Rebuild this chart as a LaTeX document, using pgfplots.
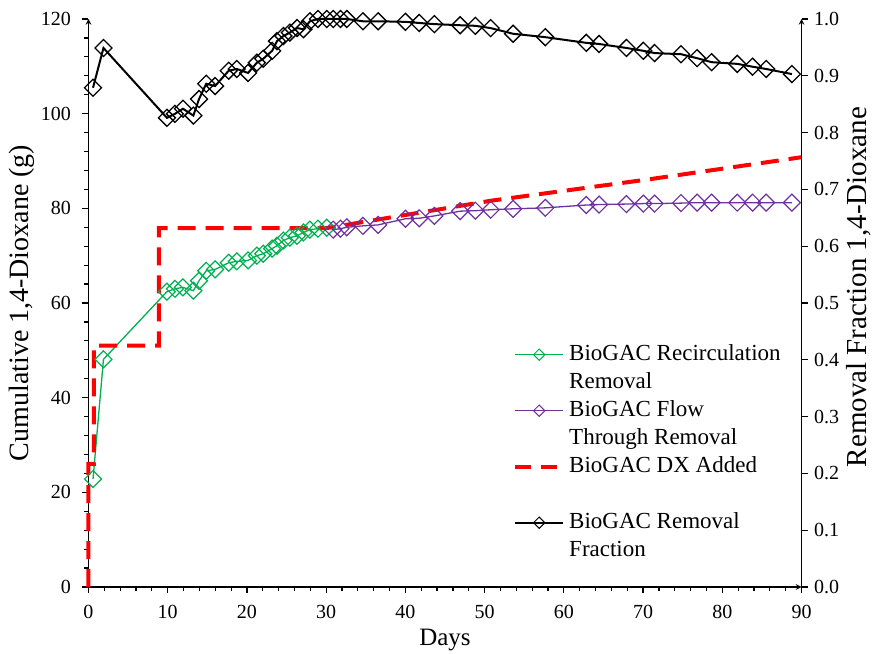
\documentclass[border=0pt]{standalone}
\usepackage{pgfplots}
\pgfplotsset{compat=1.18}
\usepackage{pgfplotstable}
\usepackage{fontspec}
\setmainfont{Liberation Serif}
\definecolor{xgreen}{RGB}{0,176,80}
\definecolor{xpurple}{RGB}{112,48,160}
\definecolor{xred}{RGB}{255,0,0}

\pgfplotstableread{
d g
0.57 22.8
1.89 48.1
9.90 62.4
10.91 63.0
11.92 63.3
13.24 62.6
13.95 64.7
14.86 66.8
15.98 67.1
17.70 68.5
18.72 68.8
20.14 69.0
21.25 70.0
22.06 70.4
23.18 71.5
23.79 72.1
24.60 73.2
25.41 73.8
26.32 74.2
27.13 74.9
27.95 75.5
28.96 75.7
30.07 75.9
}\greendata

\pgfplotstableread{
d g
30.89 75.5
31.80 75.7
32.61 76.0
34.64 76.3
36.56 76.5
40.01 77.8
41.74 77.9
43.66 78.4
46.91 79.4
48.83 79.5
50.76 79.7
53.60 79.9
57.66 80.1
62.83 80.7
64.45 80.8
67.90 80.9
70.03 81.0
71.45 81.0
74.79 81.1
76.82 81.2
78.65 81.2
81.89 81.2
83.82 81.2
85.54 81.2
88.79 81.2
}\purpledata

\pgfplotstableread{
d g
0 0
0 26
0.67 26
0.67 51
8.88 51
8.88 75.8
29.97 75.8
50.76 81.6
71.04 86.2
90 90.8
}\reddata

\pgfplotstableread{
d f
0.57 0.879
1.89 0.949
9.90 0.826
10.91 0.833
11.92 0.842
13.24 0.830
13.95 0.859
14.86 0.886
15.98 0.882
17.70 0.909
18.72 0.912
20.14 0.905
21.25 0.923
22.06 0.930
23.18 0.944
23.79 0.961
24.60 0.970
25.41 0.976
26.32 0.984
27.13 0.982
27.95 0.996
28.96 1.000
30.07 1.000
30.89 1.000
31.80 1.000
32.61 1.000
34.64 0.996
36.56 0.996
40.01 0.995
41.74 0.993
43.66 0.991
46.91 0.989
48.83 0.988
50.76 0.984
53.60 0.974
57.66 0.968
62.83 0.958
64.45 0.956
67.90 0.949
70.03 0.944
71.45 0.940
74.79 0.938
76.82 0.931
78.65 0.924
81.89 0.921
83.82 0.916
85.54 0.912
88.79 0.903
}\blackdata

\pgfplotsset{
  common/.style={
    scale only axis, width=713pt, height=568pt,
    at={(0pt,0pt)}, anchor=south west,
    xmin=0, xmax=90, clip=false,
    axis line style={line width=1.5pt,-},
    major tick length=6pt, minor tick length=4pt,
    every tick/.style={black, line width=1.2pt},
    /pgf/number format/assume math mode=true,
    ticklabel style={font=\fontsize{20}{23}\selectfont},
    label style={font=\fontsize{26}{30}\selectfont},
  },
  legimg/.style={legend image code/.code={
      \draw[mark repeat=2, mark phase=2, mark size=4pt] plot coordinates {(0pt,0pt) (24pt,0pt) (48pt,0pt)};}},
}

\begin{document}
\begin{tikzpicture}[x=1pt,y=1pt]
\useasboundingbox (-88.5,-66) rectangle (785.5,587);
\begin{axis}[common,
  ymin=0, ymax=120,
  axis x line=bottom, axis y line=left,
  xtick align=outside, ytick align=outside,
  xtick={0,10,...,90}, minor x tick num=4,
  ytick={0,20,...,120}, minor y tick num=4,
  xticklabel style={yshift=-9pt},
  yticklabel style={xshift=-8pt},
  xlabel={Days},
  ylabel={Cumulative 1,4-Dioxane (g)},
  xlabel style={at={(axis description cs:0.5,-0.094)}, anchor=center, font=\fontsize{25}{30}\selectfont},
  ylabel style={at={(axis description cs:-0.0933,0.5)}, anchor=center, font=\fontsize{28}{30}\selectfont},
]
\addplot[xgreen, line width=1.3pt, mark=square, mark size=6pt, mark options={rotate=45, solid, line width=1.2pt}] table[x=d,y=g] {\greendata};
\addplot[xpurple, line width=1.3pt, mark=square, mark size=6pt, mark options={rotate=45, solid, line width=1.2pt}] table[x=d,y=g] {\purpledata};
\addplot[xred, line width=4pt, dash pattern=on 18pt off 10pt] table[x=d,y=g] {\reddata};
\end{axis}
\begin{axis}[common,
  ymin=0, ymax=1,
  axis x line=none, axis y line=right,
  ytick align=outside,
  ytick={0,0.1,0.2,0.3,0.4,0.5,0.6,0.7,0.8,0.9,1},
  minor y tick num=0,
  yticklabel style={xshift=3pt, /pgf/number format/.cd, fixed, fixed zerofill, precision=1},
  ylabel={Removal Fraction 1,4-Dioxane},
  ylabel style={at={(axis description cs:1.0806,0.528)}, anchor=center, rotate=0, font=\fontsize{29}{30}\selectfont},
  legend cell align=left,
  legend style={at={(axis description cs:0.5954,0.4296)}, anchor=north west,
    draw=none, fill=none, inner sep=0pt, row sep=5pt, column sep=4pt,
    font=\fontsize{23}{26}\selectfont,
    nodes={text height=17pt, text depth=6pt, inner sep=0pt}},
]
\addlegendimage{xgreen, line width=1.3pt, mark=square, mark options={rotate=45, solid, line width=1pt}, legimg}
\addlegendentry{BioGAC Recirculation}
\addlegendimage{empty legend}
\addlegendentry{Removal}
\addlegendimage{xpurple, line width=1.3pt, mark=square, mark options={rotate=45, solid, line width=1pt}, legimg}
\addlegendentry{BioGAC Flow}
\addlegendimage{empty legend}
\addlegendentry{Through Removal}
\addlegendimage{xred, line width=4pt, dash pattern=on 16pt off 10pt, legend image code/.code={\draw (0pt,0pt) -- (48pt,0pt);}}
\addlegendentry{BioGAC DX Added}
\addlegendimage{empty legend}
\addlegendentry{}
\addlegendimage{black, line width=2pt, mark=square, mark options={rotate=45, solid, line width=1pt}, legimg}
\addlegendentry{BioGAC Removal}
\addlegendimage{empty legend}
\addlegendentry{Fraction}
\addplot[black, line width=2pt, mark=square, mark size=6pt, mark options={rotate=45, solid, line width=1.3pt}, forget plot] table[x=d,y=f] {\blackdata};
\end{axis}
\end{tikzpicture}
\end{document}
